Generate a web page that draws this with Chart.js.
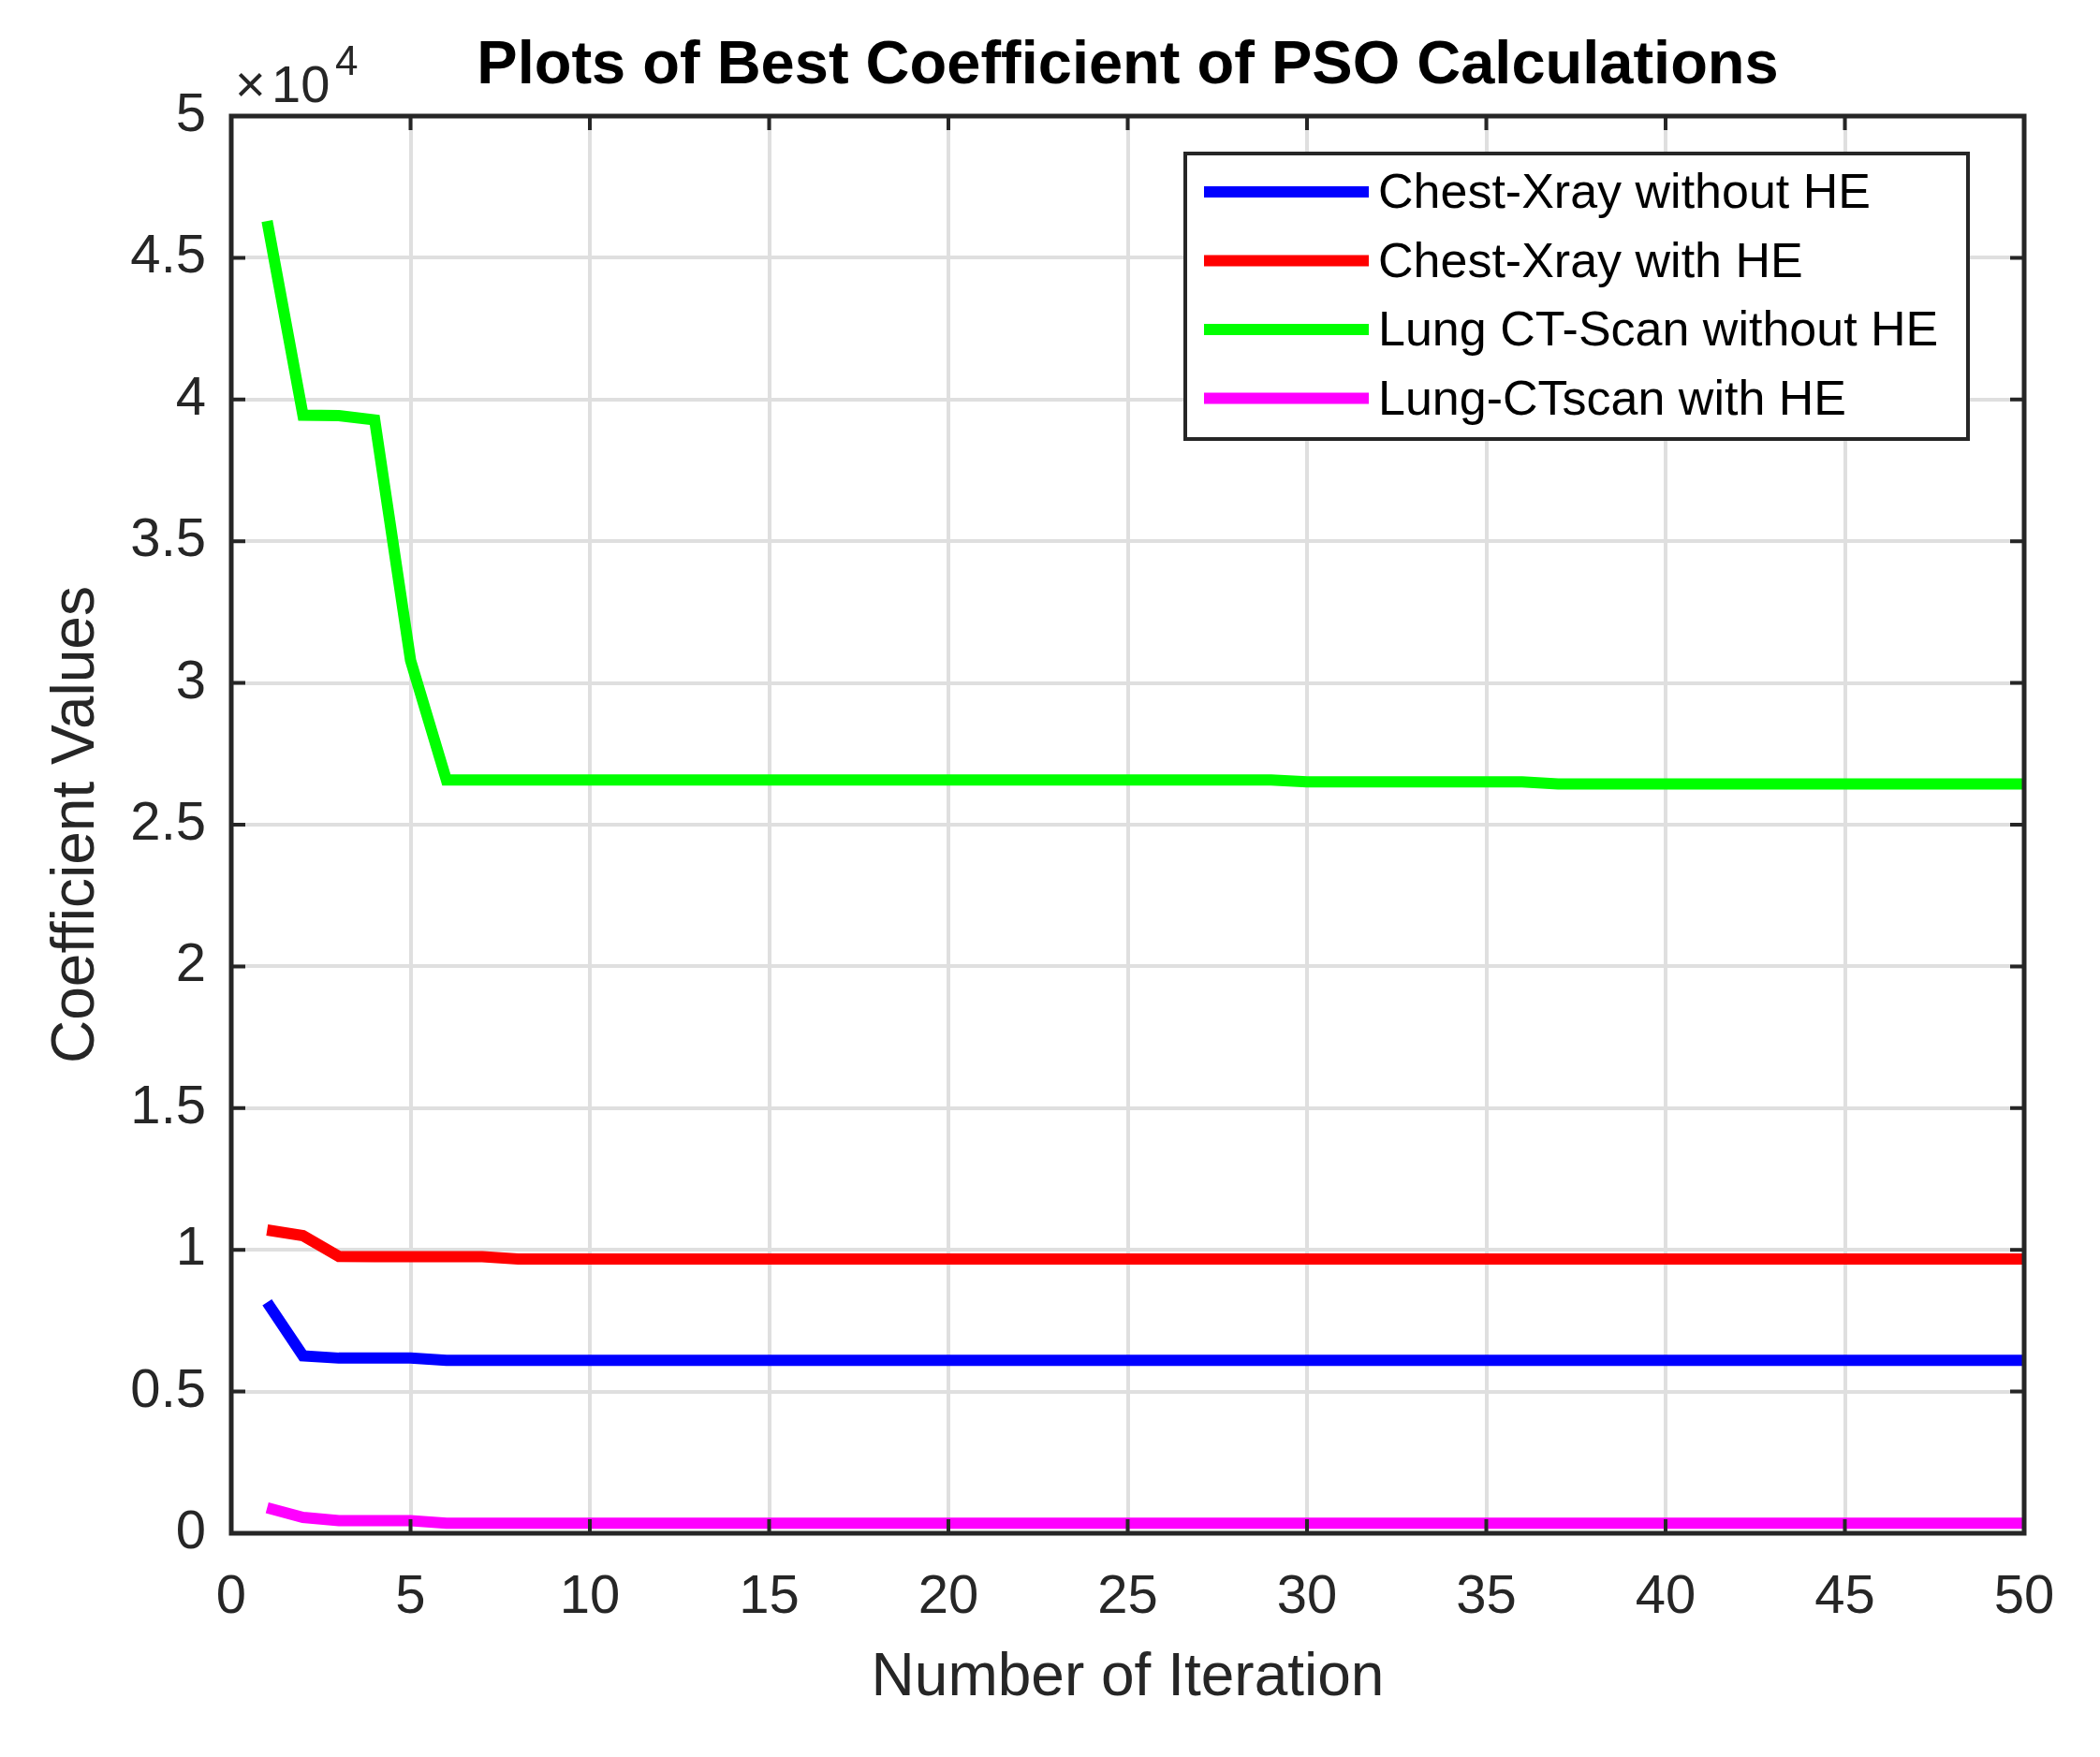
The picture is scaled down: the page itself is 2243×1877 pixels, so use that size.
<!DOCTYPE html>
<html>
<head>
<meta charset="utf-8">
<title>Plots of Best Coefficient of PSO Calculations</title>
<script src="https://cdn.jsdelivr.net/npm/chart.js@4.4.1/dist/chart.umd.min.js"></script>
<style>
  html, body { margin: 0; padding: 0; background: #fff; }
  #wrap { width: 2243px; height: 1877px; position: relative; }
</style>
</head>
<body>
<div id="wrap"><canvas id="chart"></canvas></div>
<script>
/* global Chart */

const FONT = "'Liberation Sans', Arial, Helvetica, sans-serif";
const AXIS_COLOR = "#262626";

// iteration index (x)
const iterations = [
  1, 2, 3, 4, 5, 6, 7, 8, 9, 10,
  11, 12, 13, 14, 15, 16, 17, 18, 19, 20,
  21, 22, 23, 24, 25, 26, 27, 28, 29, 30,
  31, 32, 33, 34, 35, 36, 37, 38, 39, 40,
  41, 42, 43, 44, 45, 46, 47, 48, 49, 50
];

// best coefficient per iteration
const chestXrayNoHE = [
  8150, 6260, 6180, 6180, 6180, 6100, 6100, 6100, 6100, 6100,
  6100, 6100, 6100, 6100, 6100, 6100, 6100, 6100, 6100, 6100,
  6100, 6100, 6100, 6100, 6100, 6100, 6100, 6100, 6100, 6100,
  6100, 6100, 6100, 6100, 6100, 6100, 6100, 6100, 6100, 6100,
  6100, 6100, 6100, 6100, 6100, 6100, 6100, 6100, 6100, 6100
];
const chestXrayHE = [
  10700, 10500, 9770, 9760, 9760, 9760, 9760, 9680, 9680, 9680,
  9680, 9680, 9680, 9680, 9680, 9680, 9680, 9680, 9680, 9680,
  9680, 9680, 9680, 9680, 9680, 9680, 9680, 9680, 9680, 9680,
  9680, 9680, 9680, 9680, 9680, 9680, 9680, 9680, 9680, 9680,
  9680, 9680, 9680, 9680, 9680, 9680, 9680, 9680, 9680, 9680
];
const lungCtNoHE = [
  46300, 39450, 39430, 39280, 30800, 26580, 26580, 26580, 26580, 26580,
  26580, 26580, 26580, 26580, 26580, 26580, 26580, 26580, 26580, 26580,
  26580, 26580, 26580, 26580, 26580, 26580, 26580, 26580, 26580, 26510,
  26510, 26510, 26510, 26510, 26510, 26510, 26440, 26440, 26440, 26440,
  26440, 26440, 26440, 26440, 26440, 26440, 26440, 26440, 26440, 26440
];
const lungCtHE = [
  900, 560, 445, 445, 445, 355, 355, 355, 355, 355,
  355, 355, 355, 355, 355, 355, 355, 355, 355, 355,
  355, 355, 355, 355, 355, 355, 355, 355, 355, 355,
  355, 355, 355, 355, 355, 355, 355, 355, 355, 355,
  355, 355, 355, 355, 355, 355, 355, 355, 355, 355
];

const seriesLabels = ["Chest-Xray without HE", "Chest-Xray with HE", "Lung CT-Scan without HE", "Lung-CTscan with HE"];
const seriesColors = ["#0000ff", "#ff0000", "#00ff00", "#ff00ff"];
const seriesValues = [chestXrayNoHE, chestXrayHE, lungCtNoHE, lungCtHE];

const xTicks = [0, 5, 10, 15, 20, 25, 30, 35, 40, 45, 50];
const yTicks = [0, 5000, 10000, 15000, 20000, 25000, 30000, 35000, 40000, 45000, 50000];
const yScaleExp = 4;

const toPoints = (values) => values.map((v, i) => ({ x: iterations[i], y: v }));

// MATLAB-style box, inward ticks, exponent label and legend inside the axes
const matlabBoxPlugin = {
  id: "matlabBox",
  afterDraw(chart) {
    const { ctx, chartArea: a } = chart;
    const x = chart.scales.x;
    const y = chart.scales.y;

    ctx.save();

    // inward tick marks on all four sides
    ctx.strokeStyle = AXIS_COLOR;
    ctx.lineWidth = 4;
    ctx.beginPath();
    for (const t of xTicks) {
      const px = x.getPixelForValue(t);
      ctx.moveTo(px, a.bottom); ctx.lineTo(px, a.bottom - 15);
      ctx.moveTo(px, a.top); ctx.lineTo(px, a.top + 15);
    }
    for (const t of yTicks) {
      const py = y.getPixelForValue(t);
      ctx.moveTo(a.left, py); ctx.lineTo(a.left + 15, py);
      ctx.moveTo(a.right, py); ctx.lineTo(a.right - 15, py);
    }
    ctx.stroke();

    // axes box
    ctx.lineWidth = 5;
    ctx.strokeRect(a.left, a.top, a.right - a.left, a.bottom - a.top);

    // x10^4 multiplier
    ctx.fillStyle = AXIS_COLOR;
    ctx.textBaseline = "alphabetic";
    ctx.textAlign = "left";
    ctx.font = `56px ${FONT}`;
    ctx.fillText("\u00d7", a.left + 4, a.top - 15);
    ctx.fillText("10", a.left + 43, a.top - 15);
    ctx.font = `44px ${FONT}`;
    ctx.fillText(String(yScaleExp), a.left + 111, a.top - 44);

    // legend
    const lg = { left: a.right - 896, top: a.top + 40, width: 836, height: 305 };
    ctx.fillStyle = "#ffffff";
    ctx.fillRect(lg.left, lg.top, lg.width, lg.height);
    ctx.strokeStyle = AXIS_COLOR;
    ctx.lineWidth = 4;
    ctx.strokeRect(lg.left, lg.top, lg.width, lg.height);

    ctx.font = `52px ${FONT}`;
    ctx.textBaseline = "middle";
    chart.data.datasets.forEach((ds, i) => {
      const rowY = lg.top + 42 + i * 73.5;
      ctx.strokeStyle = ds.borderColor;
      ctx.lineWidth = 12;
      ctx.beginPath();
      ctx.moveTo(lg.left + 20, rowY - 1);
      ctx.lineTo(lg.left + 196, rowY - 1);
      ctx.stroke();
      ctx.fillStyle = "#000000";
      ctx.fillText(ds.label, lg.left + 206, rowY + 2);
    });

    ctx.restore();
  }
};

const datasets = seriesValues.map((vals, i) => ({
  label: seriesLabels[i],
  data: toPoints(vals),
  borderColor: seriesColors[i],
  backgroundColor: seriesColors[i],
  borderWidth: 12,
  borderCapStyle: "butt",
  pointRadius: 0,
  fill: false,
  tension: 0
}));

new Chart(document.getElementById("chart").getContext("2d"), {
  type: "line",
  data: { datasets },
  options: {
    responsive: true,
    maintainAspectRatio: false,
    animation: false,
    layout: { padding: { left: 0, right: 81, top: 0, bottom: 0 } },
    plugins: {
      legend: { display: false },
      tooltip: { enabled: false },
      title: {
        display: true,
        text: "Plots of Best Coefficient of PSO Calculations",
        fullSize: false,
        color: "#000000",
        font: { family: FONT, size: 65, weight: "bold" },
        padding: { top: 32, bottom: 14 }
      }
    },
    scales: {
      x: {
        type: "linear",
        min: 0,
        max: 50,
        afterFit: (s) => { s.height = 239; },
        ticks: {
          stepSize: 5,
          padding: 34,
          maxRotation: 0,
          autoSkip: false,
          color: AXIS_COLOR,
          font: { family: FONT, size: 58 }
        },
        grid: { color: "#dfdfdf", lineWidth: 4, drawTicks: false },
        border: { display: false },
        title: {
          display: true,
          text: "Number of Iteration",
          color: AXIS_COLOR,
          font: { family: FONT, size: 64 },
          padding: { top: 0, bottom: 45 }
        }
      },
      y: {
        min: 0,
        max: 50000,
        afterFit: (s) => { s.width = 247; },
        ticks: {
          stepSize: 5000,
          padding: 27,
          color: AXIS_COLOR,
          font: { family: FONT, size: 58 },
          callback: (v) => String(v / Math.pow(10, yScaleExp))
        },
        grid: { color: "#dfdfdf", lineWidth: 4, drawTicks: false },
        border: { display: false },
        title: {
          display: true,
          text: "Coefficient Values",
          color: AXIS_COLOR,
          font: { family: FONT, size: 64 },
          padding: { top: 44, bottom: 0 }
        }
      }
    }
  },
  plugins: [matlabBoxPlugin]
});
</script>
</body>
</html>
